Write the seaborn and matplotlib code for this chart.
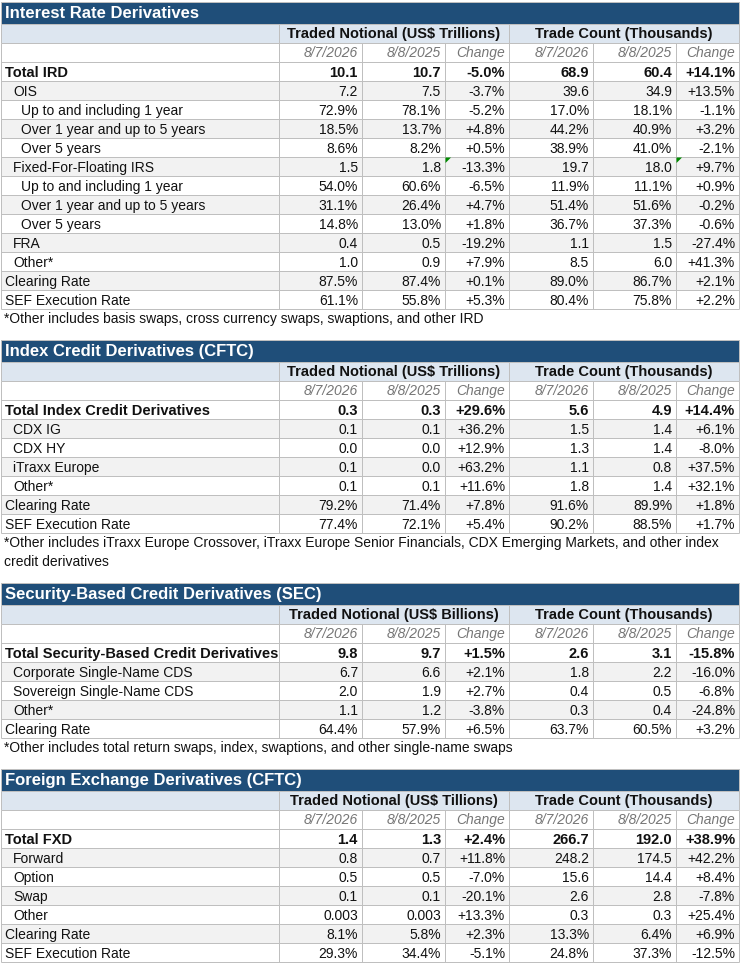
import matplotlib
matplotlib.use("Agg")
import matplotlib.pyplot as plt
from matplotlib.patches import Rectangle, Polygon
import seaborn as sns

period_labels = ["8/7/2026", "8/8/2025", "Change", "8/7/2026", "8/8/2025", "Change"]
count_header = "Trade Count (Thousands)"

# Interest Rate Derivatives
ird_title = "Interest Rate Derivatives"
ird_unit = "Traded Notional (US$ Trillions)"
ird_labels = ["Total IRD", "OIS", "Up to and including 1 year", "Over 1 year and up to 5 years",
              "Over 5 years", "Fixed-For-Floating IRS", "Up to and including 1 year",
              "Over 1 year and up to 5 years", "Over 5 years", "FRA", "Other*",
              "Clearing Rate", "SEF Execution Rate"]
ird_levels = [0, 1, 2, 2, 2, 1, 2, 2, 2, 1, 1, 0, 0]
ird_notional_new = ["10.1", "7.2", "72.9%", "18.5%", "8.6%", "1.5", "54.0%", "31.1%", "14.8%", "0.4", "1.0", "87.5%", "61.1%"]
ird_notional_old = ["10.7", "7.5", "78.1%", "13.7%", "8.2%", "1.8", "60.6%", "26.4%", "13.0%", "0.5", "0.9", "87.4%", "55.8%"]
ird_notional_chg = ["-5.0%", "-3.7%", "-5.2%", "+4.8%", "+0.5%", "-13.3%", "-6.5%", "+4.7%", "+1.8%", "-19.2%", "+7.9%", "+0.1%", "+5.3%"]
ird_count_new = ["68.9", "39.6", "17.0%", "44.2%", "38.9%", "19.7", "11.9%", "51.4%", "36.7%", "1.1", "8.5", "89.0%", "80.4%"]
ird_count_old = ["60.4", "34.9", "18.1%", "40.9%", "41.0%", "18.0", "11.1%", "51.6%", "37.3%", "1.5", "6.0", "86.7%", "75.8%"]
ird_count_chg = ["+14.1%", "+13.5%", "-1.1%", "+3.2%", "-2.1%", "+9.7%", "+0.9%", "-0.2%", "-0.6%", "-27.4%", "+41.3%", "+2.1%", "+2.2%"]
ird_notes = ["*Other includes basis swaps, cross currency swaps, swaptions, and other IRD"]
ird_flagged = [(5, 2), (5, 5)]  # (linha, coluna) com triângulo verde do Excel

# Index Credit Derivatives
icd_title = "Index Credit Derivatives (CFTC)"
icd_unit = "Traded Notional (US$ Trillions)"
icd_labels = ["Total Index Credit Derivatives", "CDX IG", "CDX HY", "iTraxx Europe", "Other*",
              "Clearing Rate", "SEF Execution Rate"]
icd_levels = [0, 1, 1, 1, 1, 0, 0]
icd_notional_new = ["0.3", "0.1", "0.0", "0.1", "0.1", "79.2%", "77.4%"]
icd_notional_old = ["0.3", "0.1", "0.0", "0.0", "0.1", "71.4%", "72.1%"]
icd_notional_chg = ["+29.6%", "+36.2%", "+12.9%", "+63.2%", "+11.6%", "+7.8%", "+5.4%"]
icd_count_new = ["5.6", "1.5", "1.3", "1.1", "1.8", "91.6%", "90.2%"]
icd_count_old = ["4.9", "1.4", "1.4", "0.8", "1.4", "89.9%", "88.5%"]
icd_count_chg = ["+14.4%", "+6.1%", "-8.0%", "+37.5%", "+32.1%", "+1.8%", "+1.7%"]
icd_notes = ["*Other includes iTraxx Europe Crossover, iTraxx Europe Senior Financials, CDX Emerging Markets, and other index",
             "credit derivatives"]

# Security-Based Credit Derivatives
sec_title = "Security-Based Credit Derivatives (SEC)"
sec_unit = "Traded Notional (US$ Billions)"
sec_labels = ["Total Security-Based Credit Derivatives", "Corporate Single-Name CDS",
              "Sovereign Single-Name CDS", "Other*", "Clearing Rate"]
sec_levels = [0, 1, 1, 1, 0]
sec_notional_new = ["9.8", "6.7", "2.0", "1.1", "64.4%"]
sec_notional_old = ["9.7", "6.6", "1.9", "1.2", "57.9%"]
sec_notional_chg = ["+1.5%", "+2.1%", "+2.7%", "-3.8%", "+6.5%"]
sec_count_new = ["2.6", "1.8", "0.4", "0.3", "63.7%"]
sec_count_old = ["3.1", "2.2", "0.5", "0.4", "60.5%"]
sec_count_chg = ["-15.8%", "-16.0%", "-6.8%", "-24.8%", "+3.2%"]
sec_notes = ["*Other includes total return swaps, index, swaptions, and other single-name swaps"]

# Foreign Exchange Derivatives
fxd_title = "Foreign Exchange Derivatives (CFTC)"
fxd_unit = "Traded Notional (US$ Tillions)"
fxd_labels = ["Total FXD", "Forward", "Option", "Swap", "Other", "Clearing Rate", "SEF Execution Rate"]
fxd_levels = [0, 1, 1, 1, 1, 0, 0]
fxd_notional_new = ["1.4", "0.8", "0.5", "0.1", "0.003", "8.1%", "29.3%"]
fxd_notional_old = ["1.3", "0.7", "0.5", "0.1", "0.003", "5.8%", "34.4%"]
fxd_notional_chg = ["+2.4%", "+11.8%", "-7.0%", "-20.1%", "+13.3%", "+2.3%", "-5.1%"]
fxd_count_new = ["266.7", "248.2", "15.6", "2.6", "0.3", "13.3%", "24.8%"]
fxd_count_old = ["192.0", "174.5", "14.4", "2.8", "0.3", "6.4%", "37.3%"]
fxd_count_chg = ["+38.9%", "+42.2%", "+8.4%", "-7.8%", "+25.4%", "+6.9%", "-12.5%"]
fxd_notes = []

# Layout e estilo
X_EDGES = [1, 279, 362, 445, 509, 593, 676, 739]
INDENT = [4, 12, 20]
TITLE_H, ROW_H, NOTE_H, GAP = 22, 19, 19, 12
BASE_HEAD = 14       # baseline do texto no cabeçalho / datas / notas
BASE_ROW = 15        # baseline do texto nas linhas de dados
DARK_BLUE = "#1F4E79"
LIGHT_BLUE = "#DDE6F0"
STRIPE = "#F2F2F2"
GRID = "#BFBFBF"
DATE_GRAY = "#767676"
TEXT = "#111111"
FS, FS_BOLD, FS_TITLE = 10, 10.5, 12
LW = 0.72


def draw_section(ax, y, title, unit, labels, levels, cols, notes, flagged=()):
    left, right = X_EDGES[0], X_EDGES[-1]
    # barra de título
    ax.add_patch(Rectangle((left, y), right - left, TITLE_H, facecolor=DARK_BLUE,
                           edgecolor=GRID, lw=LW))
    ax.text(left + 4, y + 16, title, color="white", fontsize=FS_TITLE,
            fontweight="bold", va="baseline")
    y += TITLE_H

    # cabeçalho com as unidades
    top = y
    ax.add_patch(Rectangle((left, y), right - left, ROW_H, facecolor=LIGHT_BLUE, edgecolor="none"))
    for text, c0, c1 in [(unit, 1, 4), (count_header, 4, 7)]:
        ax.text((X_EDGES[c0] + X_EDGES[c1]) / 2, y + BASE_HEAD, text, color=TEXT,
                fontsize=FS_BOLD, fontweight="bold", ha="center", va="baseline")
    ax.vlines([left, X_EDGES[1], X_EDGES[4], right], y, y + ROW_H, color=GRID, lw=LW)
    y += ROW_H

    # linha das datas
    for j, lab in enumerate(period_labels):
        ax.text(X_EDGES[j + 2] - 4, y + BASE_HEAD, lab, color=DATE_GRAY, fontsize=FS,
                style="italic", ha="right", va="baseline")
    body_top = y
    y += ROW_H

    # linhas de dados
    for i, (lab, lev) in enumerate(zip(labels, levels)):
        if i % 2 == 1:
            ax.add_patch(Rectangle((left, y), right - left, ROW_H, facecolor=STRIPE,
                                   edgecolor="none", zorder=0))
        is_total = lab.startswith("Total")
        weight = "bold" if is_total else "normal"
        size = FS_BOLD if is_total else FS
        ax.text(left + INDENT[lev], y + BASE_ROW, lab, color=TEXT, fontsize=size,
                fontweight=weight, va="baseline")
        for j, col in enumerate(cols):
            ax.text(X_EDGES[j + 2] - 4, y + BASE_ROW, col[i], color=TEXT, fontsize=size,
                    fontweight=weight, ha="right", va="baseline")
        for (fi, fj) in flagged:
            if fi == i:
                x0 = X_EDGES[fj + 1]
                ax.add_patch(Polygon([(x0 + 0.5, y + 0.5), (x0 + 6, y + 0.5), (x0 + 0.5, y + 6)],
                                     closed=True, facecolor="#008A00", edgecolor="none", zorder=3))
        y += ROW_H

    # grade
    ax.hlines([top] + [body_top + k * ROW_H for k in range(len(labels) + 2)],
              left, right, color=GRID, lw=LW, zorder=2)
    ax.vlines(X_EDGES, body_top, y, color=GRID, lw=LW, zorder=2)

    # notas de rodapé
    for line in notes:
        ax.text(left + 3, y + BASE_HEAD, line, color=TEXT, fontsize=FS, va="baseline")
        y += NOTE_H
    return y + GAP


sns.set_theme(style="white")
plt.rcParams["font.family"] = ["Liberation Sans", "DejaVu Sans"]

fig = plt.figure(figsize=(7.44, 9.66), dpi=100)
ax = fig.add_axes([0, 0, 1, 1])
ax.set_xlim(0, 744)
ax.set_ylim(966, 0)
ax.axis("off")

y = 2
y = draw_section(ax, y, ird_title, ird_unit, ird_labels, ird_levels,
                 [ird_notional_new, ird_notional_old, ird_notional_chg,
                  ird_count_new, ird_count_old, ird_count_chg], ird_notes, ird_flagged)
y = draw_section(ax, y, icd_title, icd_unit, icd_labels, icd_levels,
                 [icd_notional_new, icd_notional_old, icd_notional_chg,
                  icd_count_new, icd_count_old, icd_count_chg], icd_notes)
y = draw_section(ax, y, sec_title, sec_unit, sec_labels, sec_levels,
                 [sec_notional_new, sec_notional_old, sec_notional_chg,
                  sec_count_new, sec_count_old, sec_count_chg], sec_notes)
y = draw_section(ax, y, fxd_title, fxd_unit, fxd_labels, fxd_levels,
                 [fxd_notional_new, fxd_notional_old, fxd_notional_chg,
                  fxd_count_new, fxd_count_old, fxd_count_chg], fxd_notes)

fig.savefig("out.png", dpi=100, facecolor="white")
plt.close(fig)
